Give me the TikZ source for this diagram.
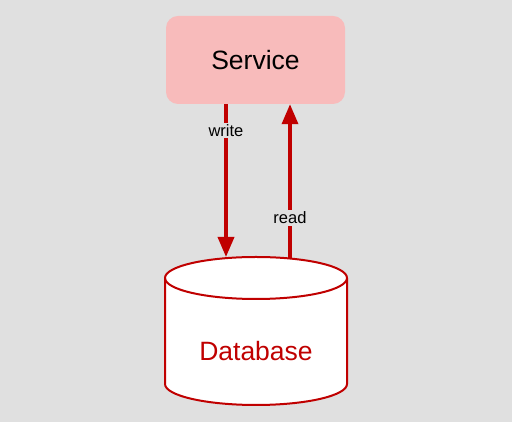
\documentclass[tikz,border=0pt]{standalone}
\usepackage{fontspec}
\setmainfont{Liberation Sans}
\usetikzlibrary{arrows.meta}
\definecolor{bg}{HTML}{E0E0E0}
\definecolor{svcfill}{HTML}{F8BBBB}
\definecolor{dbred}{HTML}{C00000}
\tikzset{
  svcbox/.style={fill=svcfill, rounded corners=12pt, minimum width=179pt, minimum height=88pt, inner sep=0pt, font=\fontsize{26.5}{30}\selectfont},
  flow/.style={draw=dbred, line width=3.5pt, -{Triangle[width=16pt,length=20pt]}},
  lbl/.style={fill=bg, inner sep=1.5pt, font=\fontsize{16.5}{18}\selectfont},
  cyl/.style={fill=white, draw=dbred, line width=2pt},
  dbtext/.style={text=dbred, font=\fontsize{26.5}{30}\selectfont}
}
\begin{document}
\begin{tikzpicture}[x=1pt,y=1pt]
\fill[bg] (0,0) rectangle (512,422);
\useasboundingbox (0,0) rectangle (512,422);
\node[svcbox] (svc) at (255.5,362) {Service};
% cylinder
\filldraw[cyl] (165,144) -- (165,38) arc[start angle=180, end angle=360, x radius=91, y radius=21] -- (347,144) arc[start angle=0, end angle=180, x radius=91, y radius=21] -- cycle;
\draw[cyl, fill=none] (165,144) arc[start angle=180, end angle=360, x radius=91, y radius=21];
\node[dbtext] (db) at (256,71) {Database};
\coordinate (dbw) at (226,165);
\coordinate (dbr) at (290,164);
\draw[flow] (svc.south -| dbw) -- (dbw) node[lbl, pos=0.17] (wl) {write};
\draw[flow] (dbr) -- (svc.south -| dbr) node[lbl, pos=0.26] (rl) {read};
\end{tikzpicture}
\end{document}
